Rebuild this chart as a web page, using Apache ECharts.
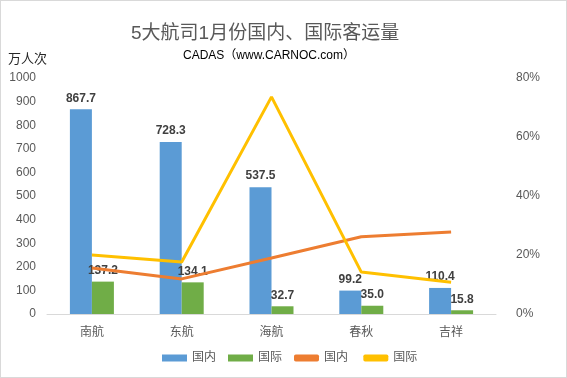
<!DOCTYPE html>
<html>
<head>
<meta charset="utf-8">
<script src="https://cdn.jsdelivr.net/npm/echarts@6/dist/echarts.min.js"></script>
<style>
html, body { margin: 0; padding: 0; background: #fff; }
#main { width: 565px; height: 376px; border: 1px solid #d9d9d9; }
</style>
</head>
<body>
<div id="main"></div>
<script>
// 航司
var airlines = ['南航', '东航', '海航', '春秋', '吉祥'];
// 客运量（万人次）
var domestic = [867.7, 728.3, 537.5, 99.2, 110.4];
var international = [137.2, 134.1, 32.7, 35.0, 15.8];
// 增幅（%）
var domesticRate = [15.6, 11.9, 19.0, 26.2, 27.8];
var intlRate = [20.0, 17.6, 73.6, 14.2, 10.8];

var chart = echarts.init(document.getElementById('main'));
var labelStyle = {
    show: true,
    position: 'top',
    color: '#404040',
    fontWeight: 'bold',
    fontSize: 12,
    formatter: function (p) { return p.value.toFixed(1); }
};
option = {
    textStyle: { fontFamily: 'Liberation Sans, Noto Sans CJK SC, sans-serif' },
    title: [{
        text: '5大航司1月份国内、国际客运量',
        left: 125,
        top: 18,
        textStyle: { color: '#595959', fontSize: 19, fontWeight: 'normal' }
    }, {
        text: 'CADAS（www.CARNOC.com）',
        left: 177,
        top: 44,
        textStyle: { color: '#000', fontSize: 12, fontWeight: 'normal' }
    }],
    legend: {
        bottom: 8,
        left: 156,
        itemWidth: 25,
        itemHeight: 7,
        itemGap: 12,
        textStyle: { color: '#595959', fontSize: 12 },
        data: [
            { name: '国内', icon: 'rect' },
            { name: '国际', icon: 'rect' },
            { name: '国内 ', icon: 'roundRect' },
            { name: '国际 ', icon: 'roundRect' }
        ]
    },
    grid: { left: 46, right: 70, top: 77, bottom: 63 },
    xAxis: {
        type: 'category',
        data: airlines,
        axisTick: { show: false },
        axisLine: { lineStyle: { color: '#d9d9d9' } },
        axisLabel: { color: '#595959', fontSize: 12, margin: 13 }
    },
    yAxis: [{
        type: 'value',
        name: '万人次',
        nameLocation: 'end',
        nameGap: 12,
        nameTextStyle: { color: '#262626', fontSize: 13, align: 'right', padding: [0, 0, 0, 0] },
        min: 0, max: 1000, interval: 100,
        axisLine: { show: false },
        axisTick: { show: false },
        splitLine: { show: false },
        axisLabel: { color: '#595959', fontSize: 12, margin: 11, formatter: function (v) { return String(v); } }
    }, {
        type: 'value',
        min: 0, max: 80, interval: 20,
        axisLine: { show: false },
        axisTick: { show: false },
        splitLine: { show: false },
        axisLabel: { color: '#595959', fontSize: 12, margin: 20, formatter: '{value}%' }
    }],
    series: [{
        name: '国内',
        type: 'bar',
        barWidth: 22,
        barGap: '0%',
        itemStyle: { color: '#5B9BD5' },
        label: labelStyle,
        data: domestic
    }, {
        name: '国际',
        type: 'bar',
        barWidth: 22,
        itemStyle: { color: '#70AD47' },
        label: labelStyle,
        data: international
    }, {
        name: '国内 ',
        type: 'line',
        yAxisIndex: 1,
        symbol: 'none',
        lineStyle: { color: '#ED7D31', width: 3 },
        itemStyle: { color: '#ED7D31' },
        data: domesticRate
    }, {
        name: '国际 ',
        type: 'line',
        yAxisIndex: 1,
        symbol: 'none',
        lineStyle: { color: '#FFC000', width: 3 },
        itemStyle: { color: '#FFC000' },
        data: intlRate
    }]
};
chart.setOption(option);
</script>
</body>
</html>
